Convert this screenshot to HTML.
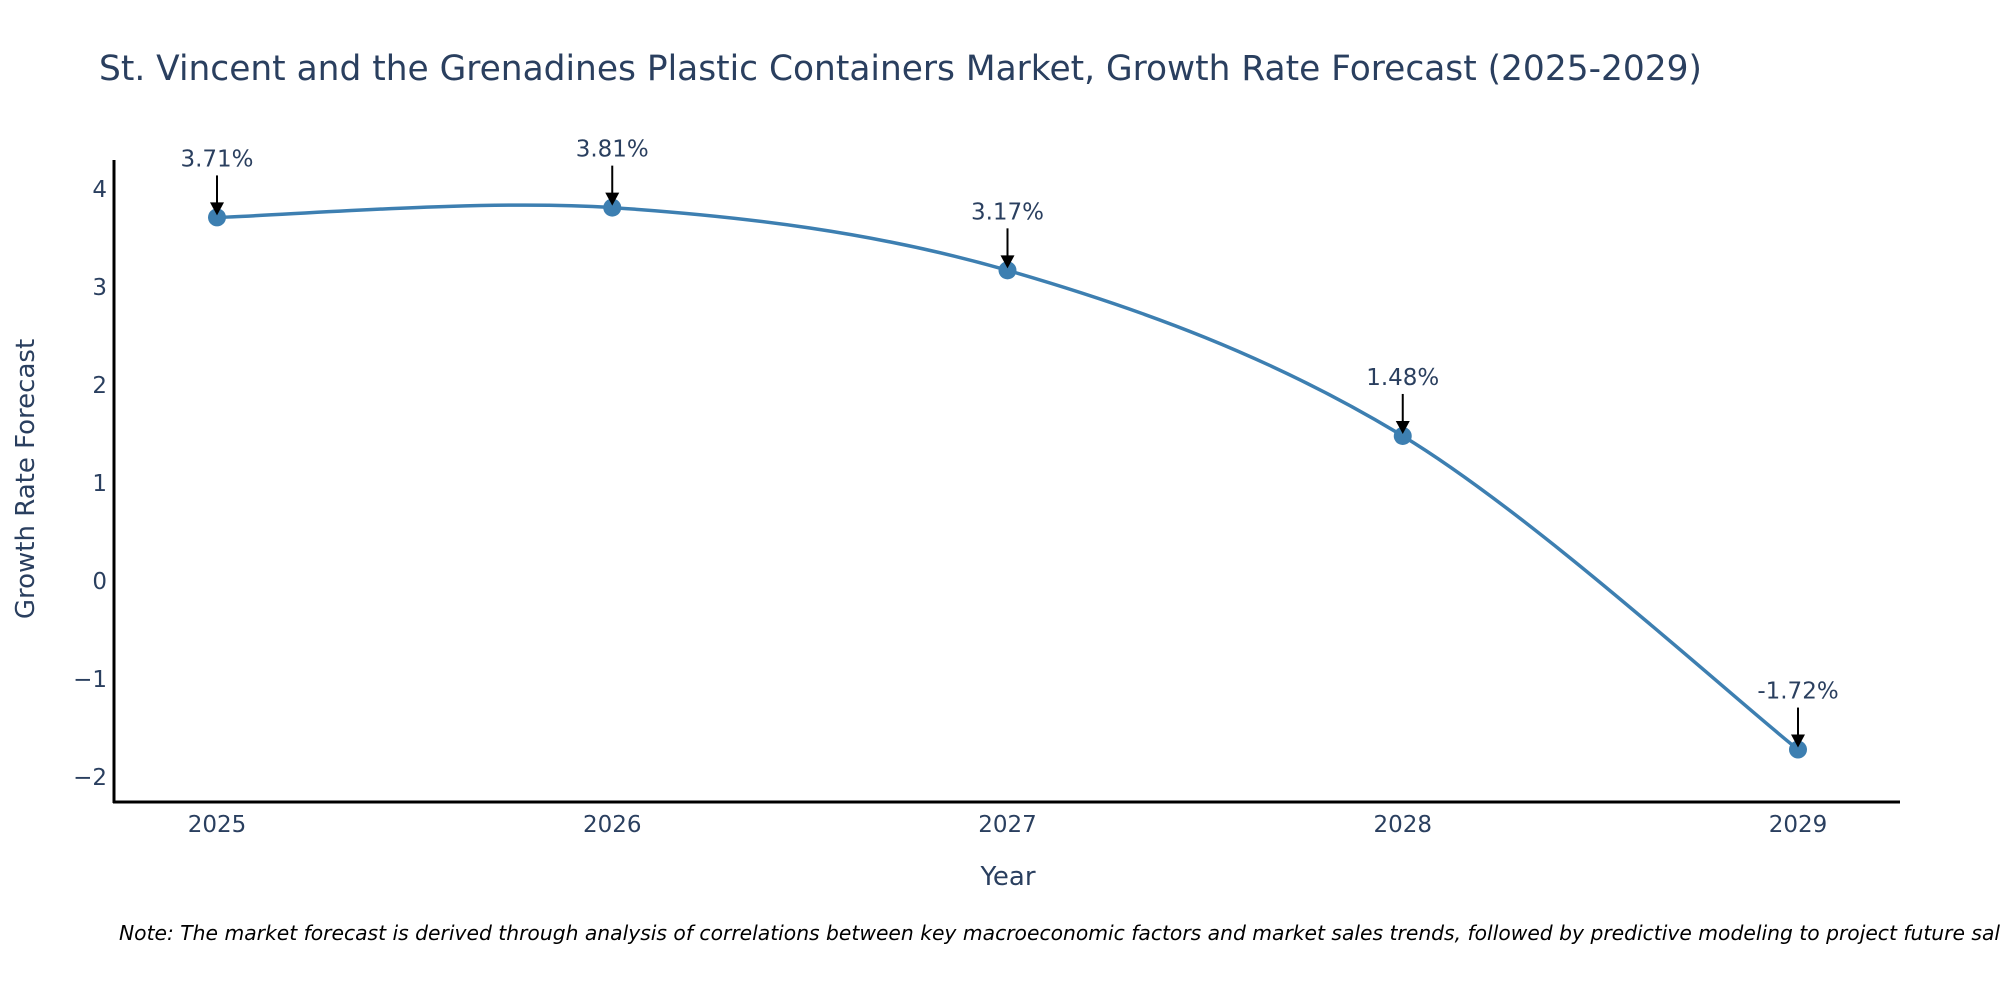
<!DOCTYPE html>
<html><head><meta charset="utf-8"><style>
body{margin:0;background:#fff;}
svg{display:block;font-family:"DejaVu Sans","Liberation Sans",sans-serif;}
</style></head><body>
<svg id="chart" width="2000" height="1000" viewBox="0 0 2000 1000" xmlns="http://www.w3.org/2000/svg">
<rect width="2000" height="1000" fill="#fff"/>
<text x="99" y="80" font-size="34.4" fill="#2a3f5f">St. Vincent and the Grenadines Plastic Containers Market, Growth Rate Forecast (2025-2029)</text>
<g id="yticks"></g><g id="xticks"></g>
<line x1="114" y1="160" x2="114" y2="803" stroke="#000" stroke-width="3"/>
<line x1="113" y1="802" x2="1900" y2="802" stroke="#000" stroke-width="3"/>
<path id="curve" fill="none" stroke="#3d7fb1" stroke-width="3.5"/>
<g id="marks"></g>
<text transform="translate(34,479) rotate(-90)" text-anchor="middle" font-size="26" fill="#2a3f5f">Growth Rate Forecast</text>
<text x="1008" y="885" text-anchor="middle" font-size="26" fill="#2a3f5f">Year</text>
<text x="119" y="940" font-size="20.3" font-style="italic" fill="#000">Note: The market forecast is derived through analysis of correlations between key macroeconomic factors and market sales trends, followed by predictive modeling to project future sales.</text>
</svg>
<script>
const years = [2025, 2026, 2027, 2028, 2029];
const values = [3.71, 3.81, 3.17, 1.48, -1.72];
const labels = ["3.71%", "3.81%", "3.17%", "1.48%", "-1.72%"];
const yTicks = [-2, -1, 0, 1, 2, 3, 4];
const yTickLabels = ["\u22122", "\u22121", "0", "1", "2", "3", "4"];

const NS = "http://www.w3.org/2000/svg";
function xs(v){ return 217 + (v - 2025) * 395.25; }
function ys(v){ return 581 - v * 98; }
function mk(tag, attrs, parent){ const e=document.createElementNS(NS,tag); for(const k in attrs) e.setAttribute(k, attrs[k]); parent.appendChild(e); return e; }

const yg = document.getElementById('yticks');
yTicks.forEach((t,i)=>{
  const e = mk('text',{x:107,y:ys(t)+8,'text-anchor':'end','font-size':23,fill:'#2a3f5f'},yg);
  
  
  e.textContent = yTickLabels[i];
});
const xg = document.getElementById('xticks');
years.forEach(y=>{
  const e = mk('text',{x:xs(y),y:832,'text-anchor':'middle','font-size':23,fill:'#2a3f5f'},xg);
  
  
  e.textContent = y;
});

const pts = years.map((y,i)=>[xs(y), ys(values[i])]);
let d = `M${pts[0][0]},${pts[0][1]}`;
const t = 0.5;
for(let i=0;i<pts.length-1;i++){
  const p0 = pts[Math.max(i-1,0)], p1 = pts[i], p2 = pts[i+1], p3 = pts[Math.min(i+2,pts.length-1)];
  const c1 = [p1[0]+(p2[0]-p0[0])*t/3, p1[1]+(p2[1]-p0[1])*t/3];
  const c2 = [p2[0]-(p3[0]-p1[0])*t/3, p2[1]-(p3[1]-p1[1])*t/3];
  d += ` C${c1[0]},${c1[1]} ${c2[0]},${c2[1]} ${p2[0]},${p2[1]}`;
}
document.getElementById('curve').setAttribute('d', d);

const mg = document.getElementById('marks');
pts.forEach((p,i)=>{
  const c = mk('circle',{cx:p[0],cy:p[1],r:9,fill:'#3d7fb1'},mg);
  
  
  const l = mk('line',{x1:p[0],y1:p[1]-42,x2:p[0],y2:p[1]-14,stroke:'#000','stroke-width':2},mg);
  
  
  const h = mk('polygon',{points:`${p[0]-7},${p[1]-15} ${p[0]+7},${p[1]-15} ${p[0]},${p[1]-2}`,fill:'#000'},mg);
  
  
  const tx = mk('text',{x:p[0],y:p[1]-51,'text-anchor':'middle','font-size':23,fill:'#2a3f5f'},mg);
  
  
  tx.textContent = labels[i];
});
</script>
</body></html>
